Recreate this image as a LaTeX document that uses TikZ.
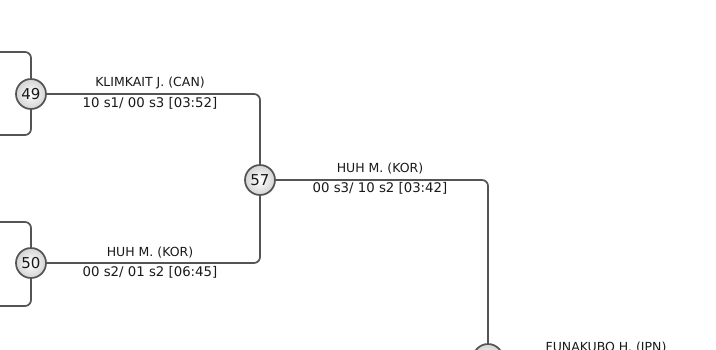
\documentclass[tikz,border=0pt]{standalone}
\usepackage{fontspec}
\setmainfont{DejaVu Sans}
\begin{document}
\begin{tikzpicture}[x=1pt,y=-1pt,
  conn/.style={draw=black!67, line width=1.7pt, rounded corners=6pt},
  matchnode/.style={circle, draw=black!67, line width=1.7pt, minimum size=30pt, inner sep=0pt,
    inner color=white, outer color=black!17, font=\fontsize{15}{15}\selectfont, text=black!90},
  winner/.style={font=\fontsize{12.5}{12.5}\selectfont, text=black!90, inner sep=0pt},
  score/.style={font=\fontsize{13.3}{13.3}\selectfont, text=black!90, inner sep=0pt}]
\useasboundingbox (0,0) rectangle (716,349);
\clip (0,0) rectangle (716,349);
% nodes
\node[matchnode] (n49) at (31,94) {49};
\node[matchnode] (n50) at (31,263) {50};
\node[matchnode] (n57) at (260,180) {57};
\node[matchnode] (n61) at (488,359) {};
% free ends
\coordinate (a1) at (-5,52);
\coordinate (a2) at (-5,135);
\coordinate (b1) at (-5,222);
\coordinate (b2) at (-5,306);
\coordinate (c1) at (730,359);
% incoming connectors
\draw[conn] (a1) -| (n49.north);
\draw[conn] (a2) -| (n49.south);
\draw[conn] (b1) -| (n50.north);
\draw[conn] (b2) -| (n50.south);
% connectors
\draw[conn] (n49.east) -| (n57.north);
\draw[conn] (n50.east) -| (n57.south);
\draw[conn] (n57.east) -| (n61.north);
\draw[conn] (n61.east) -- (c1);
% labels
\node[winner] (w49) at (150,83.5) {KLIMKAIT J. (CAN)};
\node[score]  (s49) at (150,103.5) {10 s1/ 00 s3 [03:52]};
\node[winner] (w50) at (150,253) {HUH M. (KOR)};
\node[score]  (s50) at (150,272.5) {00 s2/ 01 s2 [06:45]};
\node[winner] (w57) at (380,169) {HUH M. (KOR)};
\node[score]  (s57) at (380,188.5) {00 s3/ 10 s2 [03:42]};
\node[winner] (w61) at (606,348.5) {FUNAKUBO H. (JPN)};
\end{tikzpicture}
\end{document}
